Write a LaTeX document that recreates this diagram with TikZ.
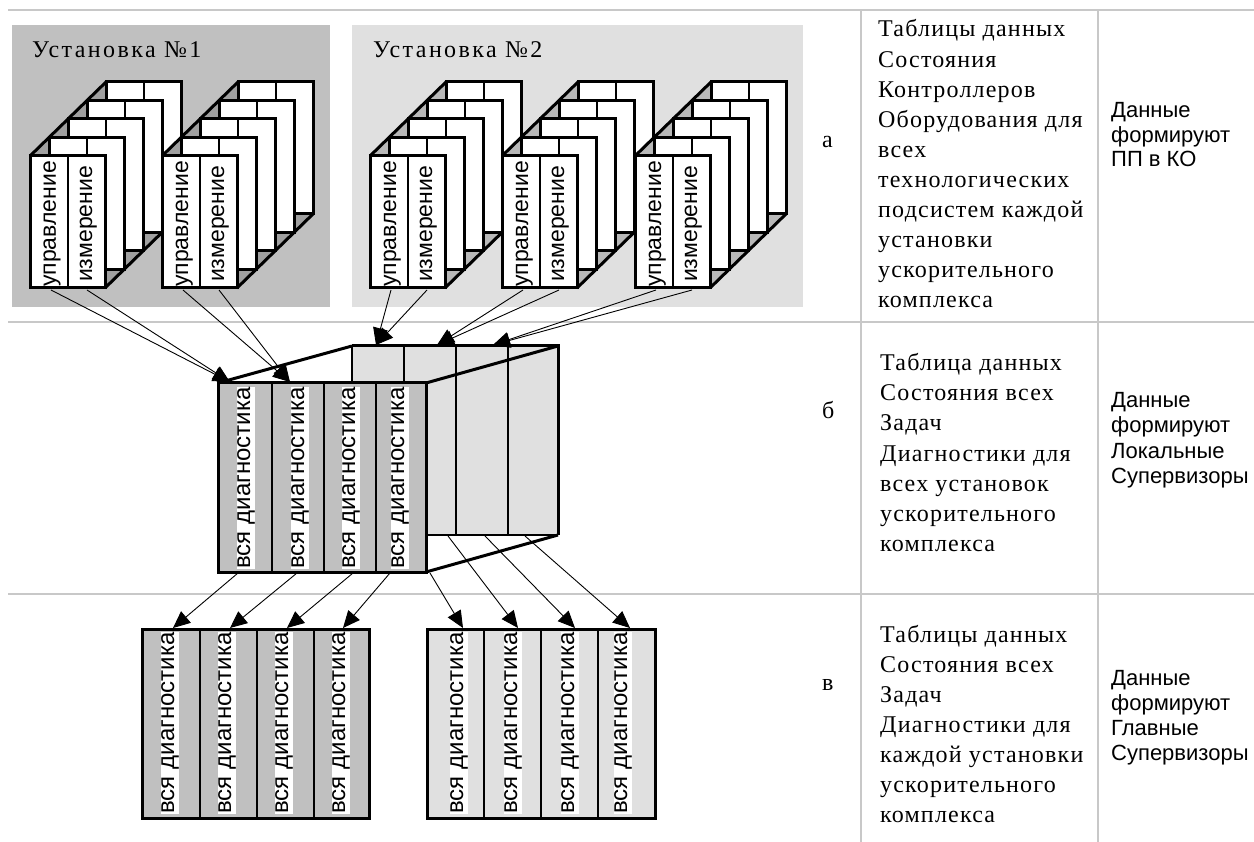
\documentclass[tikz,border=0pt]{standalone}
\usepackage{fontspec}
\setmainfont{Liberation Serif}[LetterSpace=5]
\newfontfamily\titlefont{Liberation Serif}[LetterSpace=10]
\newfontfamily\sansf{Liberation Sans}
\usetikzlibrary{arrows.meta}

\definecolor{panelA}{HTML}{C0C0C0}
\definecolor{panelB}{HTML}{E0E0E0}
\definecolor{floorA}{HTML}{A0A0A0}
\definecolor{floorB}{HTML}{B8B8B8}
\definecolor{rulegray}{HTML}{C8C8C8}

\tikzset{
  frame/.style={draw=black, line width=3pt, line join=miter},
  divider/.style={draw=black, line width=1.6pt},
  thinedge/.style={draw=black, line width=1.2pt},
  link/.style={draw=black, line width=0.9pt, -{Triangle[length=17pt,width=15pt]}},
  coltext/.style={rotate=90, anchor=base, inner sep=0pt, font=\sansf\fontsize{23}{23}\selectfont},
  diagtext/.style={rotate=90, inner sep=0.5pt, fill=white, font=\sansf\fontsize{24}{24}\selectfont},
  serif/.style={font=\fontsize{24}{30}\selectfont, inner sep=0pt, anchor=base west},
  paneltitle/.style={font=\titlefont\fontsize{24}{30}\selectfont, inner sep=0pt, anchor=base west},
  sansnote/.style={font=\sansf\fontsize{22}{25}\selectfont, inner sep=0pt, anchor=base west},
  tablerule/.style={draw=rulegray, line width=1.5pt},
}

% one cabinet stack: five frames in depth, front frame with two columns
\newcommand\rackunit[3]{%
\begin{scope}[shift={(#1,0)}]
  \fill[#3] (0,156) -- (76,82) -- (151,82) -- (151,214) -- (75,288) -- (0,288) -- cycle;
  \foreach \k in {4,3,2,1,0}{
    \filldraw[fill=white, frame] ({19*\k},{156-18.5*\k}) rectangle ({75+19*\k},{288-18.5*\k});
    \draw[divider] ({38+19*\k},{156-18.5*\k}) -- ({38+19*\k},{288-18.5*\k});
  }
  \draw[frame] (0,156) -- (76,82);
  \draw[frame] (75,288) -- (151,214);
  % labels: the baseline runs up the column
  \node[coltext] (#2-u) at (26,224) {управление};
  \node[coltext] (#2-m) at (62,224) {измерение};
  \coordinate (#2-a) at (21,290);
  \coordinate (#2-b) at (57,290);
\end{scope}}

\begin{document}
\begin{tikzpicture}[x=1pt, y=-1pt]
\useasboundingbox (0,0) rectangle (1254,842);
\fill[white] (0,0) rectangle (1254,842);

% table grid
\draw[tablerule] (8,10) -- (1254,10);
\draw[tablerule] (8,322) -- (1254,322);
\draw[tablerule] (8,594) -- (1254,594);
\draw[tablerule] (861,10) -- (861,842);
\draw[tablerule] (1098,10) -- (1098,842);

% installation panels
\fill[panelA] (12,25) rectangle (330,307);
\fill[panelB] (352,25) rectangle (803,307);
\node[paneltitle] (inst1) at (32,58) {Установка №1};
\node[paneltitle] (inst2) at (373,58) {Установка №2};

\rackunit{30}{A}{floorA}
\rackunit{162}{B}{floorA}
\rackunit{370}{C}{floorB}
\rackunit{502}{D}{floorB}
\rackunit{635}{E}{floorB}

% combined table: back face
\fill[panelB] (352,346) rectangle (558,535);
\foreach \x in {404,456,508} \draw[divider] (\x,346) -- (\x,535);
\draw[thinedge] (352,346) -- (352,535) -- (558,535);
\draw[frame] (352,346) -- (558,346) -- (558,535);
% combined table: front face
\filldraw[fill=panelA, frame] (218,383) rectangle (426,572);
\foreach \x in {272,324,376} \draw[divider] (\x,383) -- (\x,572);
\draw[frame] (218,383) -- (352,346);
\draw[frame] (426,383) -- (558,346);
\draw[frame] (426,572) -- (558,535);
\node[diagtext] (m1) at (246,478) {вся диагностика};
\node[diagtext] (m2) at (300,478) {вся диагностика};
\node[diagtext] (m3) at (351,478) {вся диагностика};
\node[diagtext] (m4) at (400,478) {вся диагностика};

% per-installation tables
\filldraw[fill=panelA, frame] (142,629) rectangle (369,818);
\foreach \x in {200,257,314} \draw[divider] (\x,629) -- (\x,818);
\filldraw[fill=panelB, frame] (427,629) rectangle (655,818);
\foreach \x in {484,541,598} \draw[divider] (\x,629) -- (\x,818);
\node[diagtext] (l1) at (170,723) {вся диагностика};
\node[diagtext] (l2) at (227,723) {вся диагностика};
\node[diagtext] (l3) at (284,723) {вся диагностика};
\node[diagtext] (l4) at (341,723) {вся диагностика};
\node[diagtext] (r1) at (459,723) {вся диагностика};
\node[diagtext] (r2) at (513,723) {вся диагностика};
\node[diagtext] (r3) at (570,723) {вся диагностика};
\node[diagtext] (r4) at (623,723) {вся диагностика};

% connector end points
\coordinate (t1) at (230,382);
\coordinate (t2) at (290,382);
\coordinate (t3) at (376,345);
\coordinate (t4) at (437,345);
\coordinate (t5) at (493,345);
\coordinate (s1) at (238,573);
\coordinate (s2) at (297,573);
\coordinate (s3) at (353,573);
\coordinate (s4) at (390,573);
\coordinate (s5) at (430,573);
\coordinate (s6) at (448,536);
\coordinate (s7) at (485,536);
\coordinate (s8) at (525,536);
\coordinate (b1) at (173,628);
\coordinate (b2) at (230,628);
\coordinate (b3) at (287,628);
\coordinate (b4) at (343,628);
\coordinate (b5) at (463,628);
\coordinate (b6) at (518,628);
\coordinate (b7) at (575,628);
\coordinate (b8) at (630,628);

% cabinets -> combined table
\draw[link] (A-a) -- (t1);
\draw[link] (A-b) -- (t1);
\draw[link] (B-a) -- (t2);
\draw[link] (B-b) -- (t2);
\draw[link] (C-a) -- (t3);
\draw[link] (C-b) -- (t3);
\draw[link] (D-a) -- (t4);
\draw[link] (D-b) -- (t4);
\draw[link] (E-a) -- (t5);
\draw[link] (E-b) -- (t5);

% combined table -> per-installation tables
\foreach \i in {1,...,8} \draw[link] (s\i) -- (b\i);

% row letters
\node[serif] (la) at (822,148) {а};
\node[serif] (lb) at (822,418) {б};
\node[serif] (lc) at (822,690) {в};

% descriptions
\foreach \t [count=\i from 0] in {Таблицы данных, Состояния, Контроллеров, Оборудования для, всех, технологических, подсистем каждой, установки, ускорительного, комплекса}
  \node[serif] (da\i) at (878,{37+30.1*\i}) {\t};
\foreach \t [count=\i from 0] in {Таблица данных, Состояния всех, Задач, Диагностики для, всех установок, ускорительного, комплекса}
  \node[serif] (db\i) at (880,{371+30*\i}) {\t};
\foreach \t [count=\i from 0] in {Таблицы данных, Состояния всех, Задач, Диагностики для, каждой установки, ускорительного, комплекса}
  \node[serif] (dc\i) at (880,{642+30*\i}) {\t};

% sources
\foreach \t [count=\i from 0] in {Данные, формируют, ПП в КО}
  \node[sansnote] (na\i) at (1111,{118+24.5*\i}) {\t};
\foreach \t [count=\i from 0] in {Данные, формируют, Локальные, Супервизоры}
  \node[sansnote] (nb\i) at (1111,{408+25*\i}) {\t};
\foreach \t [count=\i from 0] in {Данные, формируют, Главные, Супервизоры}
  \node[sansnote] (nc\i) at (1111,{685+25*\i}) {\t};
\end{tikzpicture}
\end{document}
